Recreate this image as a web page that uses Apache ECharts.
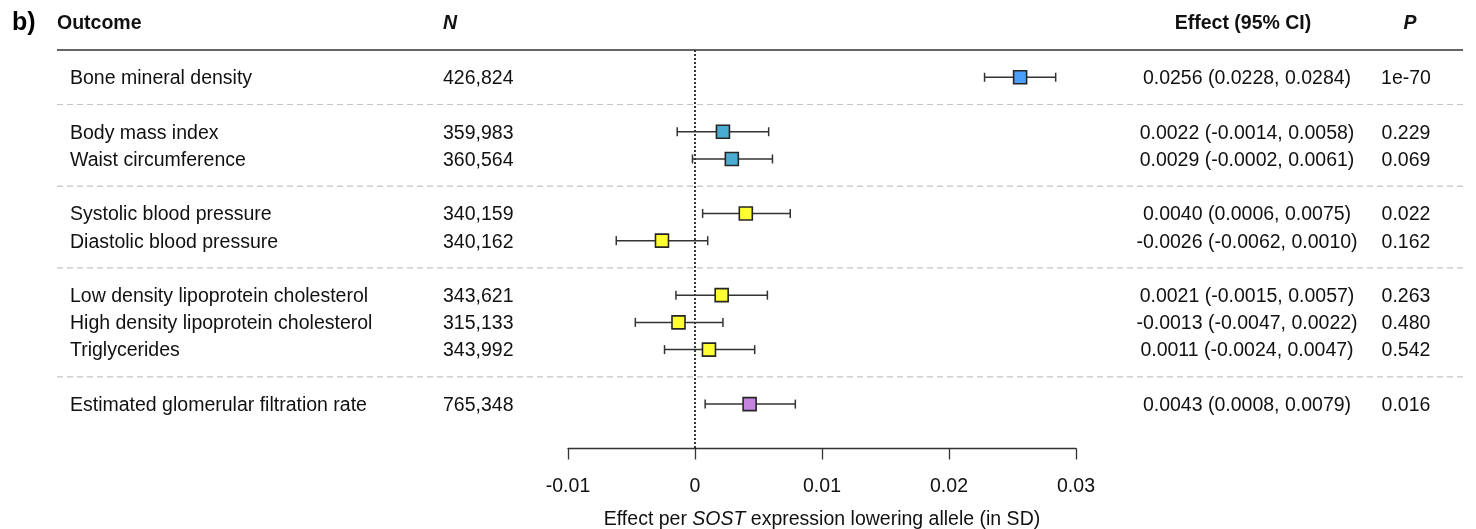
<!DOCTYPE html>
<html>
<head>
<meta charset="utf-8">
<script src="https://cdn.jsdelivr.net/npm/echarts@6/dist/echarts.min.js"></script>
<style>
  html, body { margin: 0; padding: 0; background: #ffffff; }
  #chart { width: 1476px; height: 529px; }
</style>
</head>
<body>
<div id="chart"></div>
<script>
// ---- data -------------------------------------------------------------
const outcomes = [
  'Bone mineral density',
  'Body mass index',
  'Waist circumference',
  'Systolic blood pressure',
  'Diastolic blood pressure',
  'Low density lipoprotein cholesterol',
  'High density lipoprotein cholesterol',
  'Triglycerides',
  'Estimated glomerular filtration rate'
];
const outcomeGroups = ['Bone', 'Adiposity', 'Adiposity', 'Blood pressure', 'Blood pressure',
  'Lipids', 'Lipids', 'Lipids', 'Kidney'];
const sampleSizes = [426824, 359983, 360564, 340159, 340162, 343621, 315133, 343992, 765348];
const effects  = [0.0256, 0.0022, 0.0029, 0.0040, -0.0026, 0.0021, -0.0013, 0.0011, 0.0043];
const ciLower  = [0.0228, -0.0014, -0.0002, 0.0006, -0.0062, -0.0015, -0.0047, -0.0024, 0.0008];
const ciUpper  = [0.0284, 0.0058, 0.0061, 0.0075, 0.0010, 0.0057, 0.0022, 0.0047, 0.0079];
const pValues  = ['1e-70', '0.229', '0.069', '0.022', '0.162', '0.263', '0.480', '0.542', '0.016'];
const xTicks = [-0.01, 0, 0.01, 0.02, 0.03];
const panelLabel = 'b)';
const columnHeaders = { outcome: 'Outcome', n: 'N', effect: 'Effect (95% CI)', p: 'P' };

// ---- style ------------------------------------------------------------
const FONT_FAMILY = '"Liberation Sans", Arial, Helvetica, sans-serif';
const FS = 19.5;
const TEXT = '#111111';
const INK = '#333333';
const groupColors = {
  'Bone': '#4b9ffa',
  'Adiposity': '#4aabd3',
  'Blood pressure': '#ffff33',
  'Lipids': '#ffff33',
  'Kidney': '#c584e0'
};
// pixel columns of the table
const COL = { header: 57, outcome: 70, n: 443, effect: 1247, effectHead: 1243, p: 1406, pHead: 1410, lineEnd: 1463 };
const TEXT_DY = 1.5; // optical centring of text on a row

// ---- row layout: one empty row between outcome groups ---------------------
const rowIndex = [];
const separatorRows = [];
let row = 0;
outcomeGroups.forEach((g, i) => {
  if (i > 0 && g !== outcomeGroups[i - 1]) { separatorRows.push(row); row += 1; }
  rowIndex.push(row);
  row += 1;
});

const fmt = v => v.toFixed(4);
const effectText = effects.map((e, i) => `${fmt(e)} (${fmt(ciLower[i])}, ${fmt(ciUpper[i])})`);

function font(weight, style) {
  return `${style || 'normal'} ${weight || 'normal'} ${FS}px ${FONT_FAMILY}`;
}
function txt(x, y, text, align, f) {
  return {
    type: 'text', x: x, y: y + TEXT_DY, silent: true,
    style: { text: text, font: f || font(), fill: TEXT, align: align, verticalAlign: 'middle',
             textAlign: align, textVerticalAlign: 'middle' }
  };
}

const chart = echarts.init(document.getElementById('chart'), null, { renderer: 'canvas' });

chart.setOption({
  animation: false,
  backgroundColor: '#ffffff',
  grid: { left: 568, right: 400, top: 50, height: 398.5, containLabel: false, outerBoundsMode: 'none' },
  xAxis: {
    type: 'value', min: xTicks[0], max: xTicks[xTicks.length - 1], interval: 0.01,
    position: 'bottom',
    axisLine: { show: true, onZero: false, lineStyle: { color: INK, width: 1.3 } },
    axisTick: { show: true, length: 11, lineStyle: { color: INK, width: 1.3 } },
    splitLine: { show: false },
    axisLabel: {
      margin: 28, color: TEXT, fontSize: FS, fontFamily: FONT_FAMILY,
      formatter: v => String(+(+v).toFixed(2))
    },
    name: 'Effect per {i|SOST} expression lowering allele (in SD)',
    nameLocation: 'middle', nameGap: 61,
    nameTextStyle: {
      color: TEXT, fontSize: FS, fontFamily: FONT_FAMILY,
      rich: { i: { fontStyle: 'italic', fontSize: FS, fontFamily: FONT_FAMILY, color: TEXT } }
    }
  },
  yAxis: {
    type: 'value', inverse: true, min: -1, max: 13.63, show: false
  },
  series: [
    {
      // column headers, header rule and group separators
      type: 'custom', name: 'table-frame', silent: true, clip: false,
      data: [[0, -2]],
      renderItem: function (params, api) {
        const yHead = api.coord([0, -2])[1];
        const yRule = api.coord([0, -1])[1];
        const children = [
          { type: 'text', x: 12, y: yHead, silent: true,
            style: { text: panelLabel, font: `normal bold 25px ${FONT_FAMILY}`, fill: '#000',
                     align: 'left', verticalAlign: 'middle', textAlign: 'left', textVerticalAlign: 'middle' } },
          txt(COL.header, yHead - 1, columnHeaders.outcome, 'left', font('bold')),
          txt(COL.n, yHead - 1, columnHeaders.n, 'left', font('bold', 'italic')),
          txt(COL.effectHead, yHead - 1, columnHeaders.effect, 'center', font('bold')),
          txt(COL.pHead, yHead - 1, columnHeaders.p, 'center', font('bold', 'italic')),
          { type: 'line', silent: true,
            shape: { x1: COL.header, y1: yRule, x2: COL.lineEnd, y2: yRule },
            style: { stroke: INK, lineWidth: 1.5 } }
        ];
        separatorRows.forEach(r => {
          const y = api.coord([0, r])[1];
          children.push({ type: 'line', silent: true,
            shape: { x1: COL.header, y1: y, x2: COL.lineEnd, y2: y },
            style: { stroke: '#c4c4c4', lineWidth: 1.2, lineDash: [6, 4] } });
        });
        return { type: 'group', children: children };
      }
    },
    {
      // one table row per outcome
      type: 'custom', name: 'table-rows', silent: true, clip: false,
      data: rowIndex.map((r, i) => [0, r, i]),
      renderItem: function (params, api) {
        const i = api.value(2);
        const y = api.coord([0, api.value(1)])[1];
        return {
          type: 'group',
          children: [
            txt(COL.outcome, y, outcomes[i], 'left'),
            txt(COL.n, y, sampleSizes[i].toLocaleString('en-US'), 'left'),
            txt(COL.effect, y, effectText[i], 'center'),
            txt(COL.p, y, pValues[i], 'center')
          ]
        };
      }
    },
    {
      // estimates with 95% confidence intervals
      type: 'custom', name: 'estimates', clip: false,
      encode: { x: [0, 2, 3], y: 1 },
      data: effects.map((e, i) => [e, rowIndex[i], ciLower[i], ciUpper[i], i]),
      renderItem: function (params, api) {
        const i = api.value(4);
        const c = api.coord([api.value(0), api.value(1)]);
        const lo = api.coord([api.value(2), api.value(1)]);
        const hi = api.coord([api.value(3), api.value(1)]);
        const cap = 4.5, half = 6.5;
        const lineStyle = { stroke: INK, lineWidth: 1.5 };
        return {
          type: 'group',
          children: [
            { type: 'line', shape: { x1: lo[0], y1: c[1], x2: hi[0], y2: c[1] }, style: lineStyle },
            { type: 'line', shape: { x1: lo[0], y1: c[1] - cap, x2: lo[0], y2: c[1] + cap }, style: lineStyle },
            { type: 'line', shape: { x1: hi[0], y1: c[1] - cap, x2: hi[0], y2: c[1] + cap }, style: lineStyle },
            { type: 'rect', shape: { x: c[0] - half, y: c[1] - half, width: 2 * half, height: 2 * half },
              style: { fill: groupColors[outcomeGroups[i]], stroke: '#262626', lineWidth: 1.6 } }
          ]
        };
      },
      markLine: {
        silent: true, symbol: 'none', z: 1,
        label: { show: false },
        lineStyle: { color: '#222222', type: [2, 2], width: 1.8 },
        data: [{ xAxis: 0 }]
      }
    }
  ]
});
</script>
</body>
</html>
